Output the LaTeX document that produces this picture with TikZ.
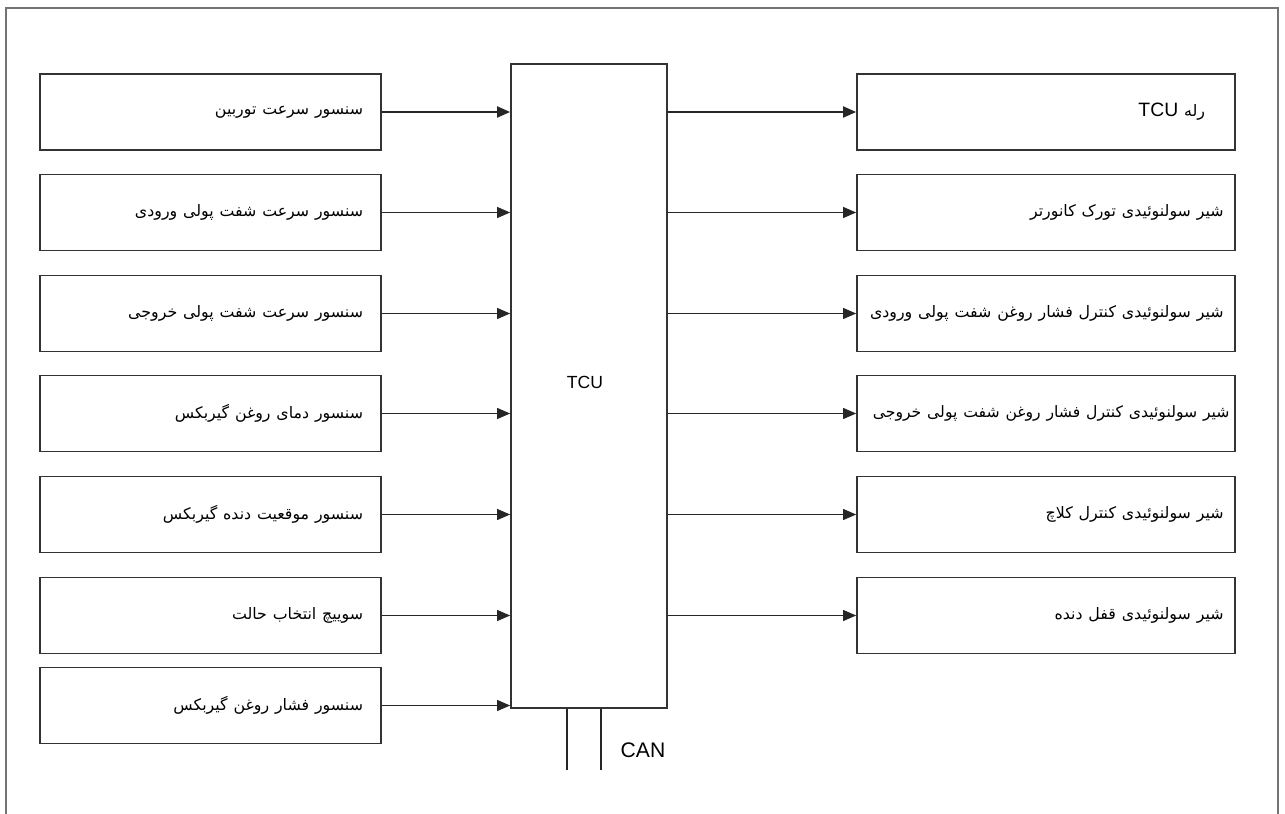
\documentclass[tikz,border=0pt]{standalone}
\usepackage{fontspec}
\setmainfont{Liberation Sans}
\newfontfamily\fa[Script=Arabic]{DejaVu Sans}
\TeXXeTstate=1
\usetikzlibrary{arrows.meta}
\newcommand{\rtl}[1]{{\fa\fontsize{9}{10}\selectfont\beginR #1\endR}}

\begin{document}
\begin{tikzpicture}[x=0.2mm,y=-0.2mm,
    inbox/.style={draw=black!80,line width=1pt,minimum width=68.2mm,minimum height=15.2mm,
                  text width=61mm,align=right,inner xsep=3.6mm},
    outbox/.style={draw=black!80,line width=1pt,minimum width=75.6mm,minimum height=15.2mm,
                   text width=71mm,align=right,inner xsep=2.3mm},
    sig/.style={draw=black!85,line width=0.6pt,-{Triangle[length=2.6mm,width=2.2mm]}}]
  \useasboundingbox (0,0) rectangle (1285,814);
  % frame
  \draw[black!55,line width=0.6pt] (6,814) -- (6,8) -- (1278,8) -- (1278,814);
  % controller
  \node[draw=black!80,line width=1pt,minimum width=31.2mm,minimum height=128.8mm] (tcu) at (589,386) {};
  \node (tcutxt) at (585,382) {\fontsize{10}{12}\selectfont TCU};
  % left nodes
  \node[inbox] (s1) at (210.5,112) {\rtl{سنسور سرعت توربین}};
  \node[inbox] (s2) at (210.5,212.5) {\rtl{سنسور سرعت شفت پولی ورودی}};
  \node[inbox] (s3) at (210.5,313.5) {\rtl{سنسور سرعت شفت پولی خروجی}};
  \node[inbox] (s4) at (210.5,413.5) {\rtl{سنسور دمای روغن گیربکس}};
  \node[inbox] (s5) at (210.5,514.5) {\rtl{سنسور موقعیت دنده گیربکس}};
  \node[inbox] (s6) at (210.5,615.5) {\rtl{سوییچ انتخاب حالت}};
  \node[inbox] (s7) at (210.5,705.5) {\rtl{سنسور فشار روغن گیربکس}};
  % right nodes
  \node[outbox,text width=63.6mm] (v1) at (1046,112) {{\fa\fontsize{9}{10}\selectfont\beginR رله \beginL{\rmfamily\fontsize{11}{12}\selectfont TCU}\endL\endR}};
  \node[outbox] (v2) at (1046,212.5) {\rtl{شیر سولنوئیدی تورک کانورتر}};
  \node[outbox] (v3) at (1046,313.5) {\rtl{شیر سولنوئیدی کنترل فشار روغن شفت پولی ورودی}};
  \node[outbox,text width=73.4mm,inner xsep=1.1mm] (v4) at (1046,413.5) {{\fa\fontsize{8.9}{10}\selectfont\beginR شیر سولنوئیدی کنترل فشار روغن شفت پولی خروجی\endR}};
  \node[outbox] (v5) at (1046,514.5) {\rtl{شیر سولنوئیدی کنترل کلاچ}};
  \node[outbox] (v6) at (1046,615.5) {\rtl{شیر سولنوئیدی قفل دنده}};
  % edges
  \draw[sig,line width=1.1pt] (s1) -- (s1 -| tcu.west);
  \draw[sig] (s2) -- (s2 -| tcu.west); \draw[sig] (s3) -- (s3 -| tcu.west);
  \draw[sig] (s4) -- (s4 -| tcu.west); \draw[sig] (s5) -- (s5 -| tcu.west);
  \draw[sig] (s6) -- (s6 -| tcu.west); \draw[sig] (s7) -- (s7 -| tcu.west);
  \draw[sig,line width=1.1pt] (tcu.east |- v1) -- (v1);
  \draw[sig] (tcu.east |- v2) -- (v2); \draw[sig] (tcu.east |- v3) -- (v3);
  \draw[sig] (tcu.east |- v4) -- (v4); \draw[sig] (tcu.east |- v5) -- (v5);
  \draw[sig] (tcu.east |- v6) -- (v6);
  % bus
  \coordinate (can1) at (567,770);
  \coordinate (can2) at (601,770);
  \draw[black!85,line width=0.9pt] (can1 |- tcu.south) -- (can1);
  \draw[black!85,line width=0.9pt] (can2 |- tcu.south) -- (can2);
  \node (can) at (643,750) {\fontsize{12}{14}\selectfont CAN};
\end{tikzpicture}
\end{document}
